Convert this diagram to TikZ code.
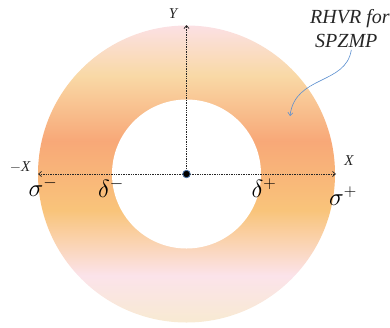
\documentclass[tikz,border=0pt]{standalone}
\usepackage{fontspec}
\setmainfont{Liberation Serif}
\usetikzlibrary{arrows.meta}
\definecolor{cA}{HTML}{F8EAD2}
\definecolor{cB}{HTML}{FBE3EA}
\definecolor{cC}{HTML}{F9C47A}
\definecolor{cD}{HTML}{F8A878}
\definecolor{cE}{HTML}{F9D9A6}
\definecolor{cF}{HTML}{FBE0E4}
\definecolor{arrowblue}{HTML}{5B8FD0}
\pgfdeclareverticalshading{ringshade}{100bp}{color(0bp)=(cA); color(25bp)=(cA); color(32.9bp)=(cB); color(43.9bp)=(cC); color(55.6bp)=(cD); color(66.6bp)=(cE); color(75bp)=(cF); color(100bp)=(cF)}
\tikzset{
  axis/.style={draw=black!85, line width=0.7pt, dash pattern=on 1pt off 0.7pt, -{Straight Barb[length=3pt,width=5pt]}},
  lab/.style={font=\itshape\fontsize{15}{15}\selectfont, text=black!85, inner sep=0pt},
  greek/.style={font=\fontsize{24}{24}\selectfont, inner sep=0pt},
  note/.style={font=\itshape\fontsize{20}{20}\selectfont, text=black!85, inner sep=0pt, anchor=base west}
}
\begin{document}
\begin{tikzpicture}[x=1pt,y=-1pt]
\useasboundingbox (0,0) rectangle (390,327);
\coordinate (O) at (186.5,174);
\shade[shading=ringshade] (O) circle [radius=148.5];
\fill[white] (O) circle [radius=74.5];
\coordinate (top) at (186.5,25);
\coordinate (left) at (38,174);
\coordinate (right) at (336,174);
\draw[axis] (O) -- (top);
\draw[axis] (O) -- (left);
\draw[axis] (O) -- (right);
\node[circle, fill=black, draw=arrowblue!80!black, line width=0.8pt, minimum size=7.5pt, inner sep=0pt] (dot) at (O) {};
\node[lab] (Y) at (173,14) {Y};
\node[lab] (X) at (349,161) {X};
\node[lab] (mX) at (20,167) {\(-\)X};
\node[greek] (sm) at (43,187) {$\sigma^{-}$};
\node[greek] (dm) at (111,188) {$\delta^{-}$};
\node[greek] (dp) at (264,188) {$\delta^{+}$};
\node[greek] (sp) at (343,196) {$\sigma^{+}$};
\node[note] (note1) at (310,23) {RHVR for};
\node[note] (note2) at (315,47.5) {SPZMP};
\coordinate (tip) at (290,116);
\draw[arrowblue, line width=0.6pt, -{Straight Barb[length=3pt,width=5pt]}] (note2.south) ++(5,2) .. controls (346,85) and (295,75) .. (tip);
\end{tikzpicture}
\end{document}
